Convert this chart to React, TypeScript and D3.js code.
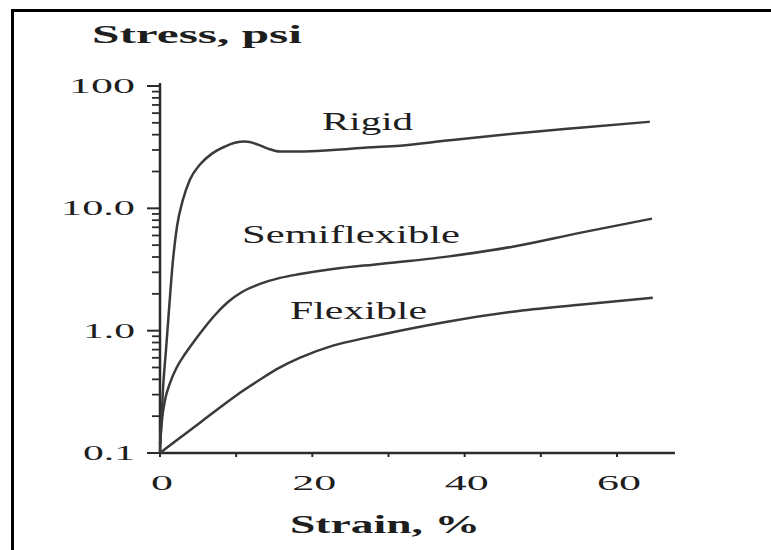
import React from "react";
import * as d3 from "d3";

const yTickValues = [0.1, 1, 10, 100];
const yTickLabels = ["0.1", "1.0", "10.0", "100"];
const xTickValues = [0, 10, 20, 30, 40, 50, 60];
const xLabelValues = [0, 20, 40, 60];
const xLabelTexts = ["0", "20", "40", "60"];

const rigidStrain = [0, 0.13, 0.39, 0.79, 1.18, 1.71, 2.23, 3.02, 3.94, 5.25, 6.82, 8.53, 9.84, 11.15, 12.86, 14.17, 15.75, 18.4, 22.7, 27.2, 31.5, 37.7, 46.3, 55.1, 64.3];
const rigidStress = [0.1, 0.155, 0.33, 0.7, 1.48, 3.8, 7.1, 11.8, 17.2, 22.8, 28, 32, 34.4, 35.1, 33.2, 30.8, 29.1, 29.1, 30, 31.4, 32.5, 35.8, 40.7, 45.6, 51];

const semiStrain = [0, 0.26, 0.66, 1.31, 2.23, 3.28, 4.6, 5.91, 7.22, 8.93, 10.77, 13.13, 15.76, 18.38, 22.7, 28.9, 37.7, 46.3, 55.1, 64.6];
const semiStress = [0.118, 0.186, 0.271, 0.373, 0.505, 0.644, 0.839, 1.072, 1.343, 1.715, 2.07, 2.41, 2.7, 2.9, 3.19, 3.51, 4.03, 4.86, 6.3, 8.24];

const flexStrain = [0, 2.62, 5.25, 7.87, 10.5, 13.1, 15.7, 18.4, 22.7, 27.2, 31.5, 37.7, 46.3, 55.1, 64.7];
const flexStress = [0.1, 0.133, 0.177, 0.235, 0.311, 0.397, 0.498, 0.601, 0.754, 0.877, 1.0, 1.185, 1.43, 1.63, 1.86];

const seriesNames = ["Rigid", "Semiflexible", "Flexible"];

export default function App() {
  const W = 771, H = 550;
  const x = d3.scaleLinear().domain([0, 60]).range([160, 617]);
  const y = d3.scaleLog().domain([0.1, 100]).range([453, 86]);
  const axisColor = "#2b2b2b";
  const lineColor = "#3a3a3a";
  const font = "Liberation Serif";

  const line = d3
    .line<[number, number]>()
    .x((d) => x(d[0]))
    .y((d) => y(d[1]))
    .curve(d3.curveMonotoneX);

  const series = [
    { name: seriesNames[0], pts: rigidStrain.map((s, i) => [s, rigidStress[i]] as [number, number]) },
    { name: seriesNames[1], pts: semiStrain.map((s, i) => [s, semiStress[i]] as [number, number]) },
    { name: seriesNames[2], pts: flexStrain.map((s, i) => [s, flexStress[i]] as [number, number]) },
  ];

  const minorTicks: number[] = [];
  for (let dec = 0.1; dec < 100; dec *= 10) {
    for (let m = 2; m <= 9; m++) minorTicks.push(+(dec * m).toPrecision(3));
  }

  const charWidth = (s: string) => {
    let w = 0;
    for (const c of s) w += c === "." ? 8 : 22;
    return w;
  };

  const labelPos = [
    { x: 322, y: 130, len: 91 },
    { x: 242, y: 243, len: 218 },
    { x: 290, y: 319, len: 137 },
  ];

  return (
    <svg
      width={W}
      height={H}
      style={{ position: "absolute", left: 0, top: 0, background: "#fff" }}
    >
      <rect x={0} y={0} width={W} height={H} fill="#fff" />
      {/* frame */}
      <line x1={12} y1={10.5} x2={W} y2={10.5} stroke="#000" strokeWidth={3} />
      <line x1={12.5} y1={9} x2={12.5} y2={H} stroke="#000" strokeWidth={3} />

      {/* title */}
      <text
        x={92}
        y={43}
        fontFamily={font}
        fontWeight="bold"
        fontSize={25}
        fill="#1e1e1e"
        textLength={210}
        lengthAdjust="spacingAndGlyphs"
      >
        Stress, psi
      </text>

      {/* y axis */}
      <line x1={x(0)} y1={83} x2={x(0)} y2={y(0.1)} stroke={axisColor} strokeWidth={2.5} />
      {minorTicks.map((v) => (
        <line key={"m" + v} x1={x(0) - 8} x2={x(0)} y1={y(v)} y2={y(v)} stroke={axisColor} strokeWidth={1.8} />
      ))}
      {yTickValues.map((v) => (
        <line key={"M" + v} x1={x(0) - 13} x2={x(0)} y1={y(v)} y2={y(v)} stroke={axisColor} strokeWidth={2} />
      ))}
      {yTickValues.map((v, i) => (
        <text
          key={"yl" + v}
          x={135 - charWidth(yTickLabels[i])}
          y={y(v) + 7}
          fontFamily={font}
          fontSize={22}
          fill="#1e1e1e"
          textLength={charWidth(yTickLabels[i])}
          lengthAdjust="spacingAndGlyphs"
        >
          {yTickLabels[i]}
        </text>
      ))}

      {/* x axis */}
      <line x1={x(0)} y1={y(0.1)} x2={675} y2={y(0.1)} stroke={axisColor} strokeWidth={2.5} />
      {xTickValues.map((v) => (
        <line key={"xt" + v} x1={x(v)} x2={x(v)} y1={y(0.1)} y2={y(0.1) + 4} stroke={axisColor} strokeWidth={2} />
      ))}
      {xLabelValues.map((v, i) => (
        <text
          key={"xl" + v}
          x={x(v) + 2 - charWidth(xLabelTexts[i]) / 2}
          y={490}
          fontFamily={font}
          fontSize={22}
          fill="#1e1e1e"
          textLength={charWidth(xLabelTexts[i])}
          lengthAdjust="spacingAndGlyphs"
        >
          {xLabelTexts[i]}
        </text>
      ))}
      <text
        x={290}
        y={533}
        fontFamily={font}
        fontWeight="bold"
        fontSize={25}
        fill="#1e1e1e"
        textLength={190}
        lengthAdjust="spacingAndGlyphs"
      >
        Strain, %
      </text>

      {/* curves */}
      {series.map((s) => (
        <path key={s.name} d={line(s.pts) || ""} fill="none" stroke={lineColor} strokeWidth={2.5} />
      ))}
      {series.map((s, i) => (
        <text
          key={"lab" + s.name}
          x={labelPos[i].x}
          y={labelPos[i].y}
          fontFamily={font}
          fontSize={25}
          fill="#1e1e1e"
          textLength={labelPos[i].len}
          lengthAdjust="spacingAndGlyphs"
        >
          {s.name}
        </text>
      ))}
    </svg>
  );
}
